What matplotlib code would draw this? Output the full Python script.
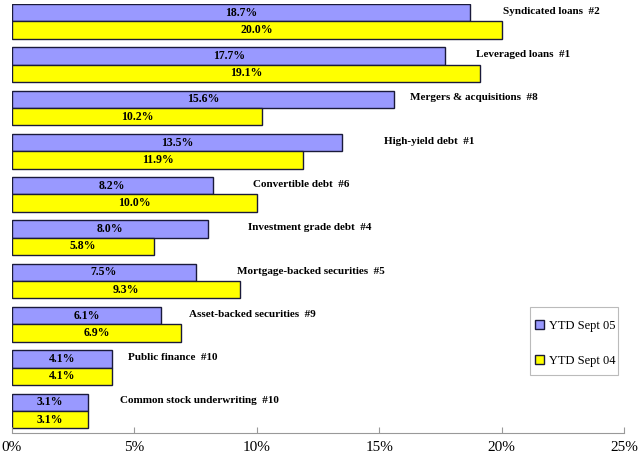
import matplotlib
matplotlib.use("Agg")
import matplotlib.pyplot as plt
from matplotlib.patches import Rectangle
import numpy as np

categories = ["Syndicated loans  #2", "Leveraged loans  #1", "Mergers & acquisitions  #8",
              "High-yield debt  #1", "Convertible debt  #6", "Investment grade debt  #4",
              "Mortgage-backed securities  #5", "Asset-backed securities  #9",
              "Public finance  #10", "Common stock underwriting  #10"]
ytd05 = [18.7, 17.7, 15.6, 13.5, 8.2, 8.0, 7.5, 6.1, 4.1, 3.1]
ytd04 = [20.0, 19.1, 10.2, 11.9, 10.0, 5.8, 9.3, 6.9, 4.1, 3.1]
label_x = [20.05, 18.95, 16.25, 15.2, 9.84, 9.64, 9.19, 7.23, 4.74, 4.41]
series_names = ["YTD Sept 05", "YTD Sept 04"]
xticks = [0, 5, 10, 15, 20, 25]
xticklabels = ["0%", "5%", "10%", "15%", "20%", "25%"]

plt.rcParams['font.family'] = ['Liberation Serif', 'DejaVu Serif']

W, H = 640, 462
fig = plt.figure(figsize=(6.4, 4.62), dpi=100)
ax = fig.add_axes([12/W, 29/H, 612/W, 429/H])

y = np.arange(len(categories))
h = 0.4
edge = "#1a1a3a"
ax.barh(y - h/2, ytd05, height=h, color="#9999FF", edgecolor=edge, linewidth=1.0,
        label=series_names[0])
ax.barh(y + h/2, ytd04, height=h, color="#FFFF00", edgecolor=edge, linewidth=1.0,
        label=series_names[1])

for yi, v in zip(y, ytd05):
    ax.text(v/2, yi - h/2, f"{v:.1f}%", ha="center", va="center", fontsize=8.5, fontweight="bold")
for yi, v in zip(y, ytd04):
    ax.text(v/2, yi + h/2, f"{v:.1f}%", ha="center", va="center", fontsize=8.5, fontweight="bold")
for yi, lx, c in zip(y, label_x, categories):
    ax.text(lx, yi - h/2 - 0.03, c, ha="left", va="center", fontsize=8, fontweight="bold")

ax.set_xlim(0, 25)
ax.set_ylim(9.51, -0.4)
ax.set_xticks(xticks)
ax.set_xticklabels(xticklabels, fontsize=11)
ax.set_yticks([])
for s in ["top", "right", "left"]:
    ax.spines[s].set_visible(False)
ax.spines["bottom"].set_color("#999999")
ax.spines["bottom"].set_linewidth(0.8)
ax.tick_params(axis="x", direction="in", length=4, color="#999999", pad=6)

# legend frame
frame = Rectangle((530/W, 1 - 375/H), 88/W, 68/H, transform=fig.transFigure,
                  facecolor="white", edgecolor="#BBBBBB", linewidth=0.8, zorder=5, clip_on=False)
ax.add_patch(frame)
leg = ax.legend(loc="upper left", bbox_to_anchor=(535/W, 1 - 320/H), bbox_transform=fig.transFigure,
                fontsize=9, frameon=False,
                handlelength=0.75, handleheight=0.75, handletextpad=0.35, labelspacing=1.85,
                borderpad=0, borderaxespad=0)
leg.set_zorder(6)

fig.savefig("out.png", dpi=100)
